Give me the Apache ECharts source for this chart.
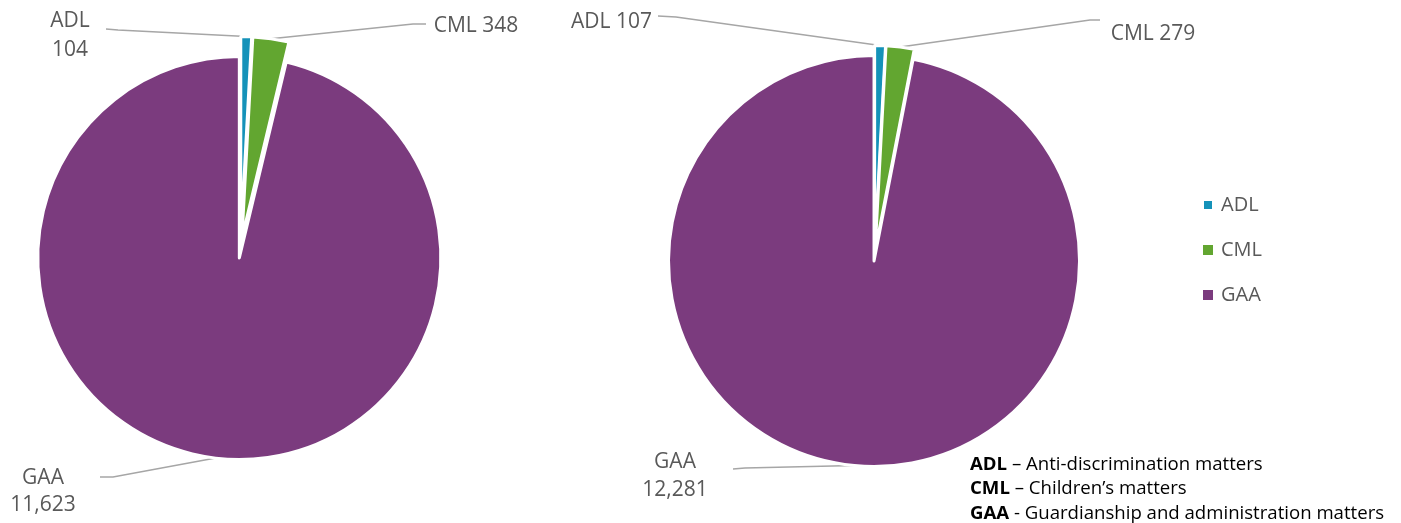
<!DOCTYPE html>
<html>
<head>
<meta charset="utf-8">
<script src="https://cdn.jsdelivr.net/npm/echarts@6/dist/echarts.min.js"></script>
<style>
  html, body { margin: 0; padding: 0; background: #ffffff; }
  #chart { width: 1401px; height: 523px; }
</style>
</head>
<body>
<div id="chart"></div>
<script>
// Matter types and lodgement counts for the two periods
const categories = ['ADL', 'CML', 'GAA'];
const leftValues = [104, 348, 11623];
const rightValues = [107, 279, 12281];
const sliceColors = ['#1592B9', '#62A630', '#7B3B7E'];

// Key shown under the legend
const keyTerms = ['ADL', 'CML', 'GAA'];
const keyTexts = [' – Anti-discrimination matters', ' – Children’s matters', ' - Guardianship and administration matters'];

const FONT = "'Open Sans', 'DejaVu Sans', sans-serif";
const fmt = v => v.toLocaleString('en-US');

// Pie placement, explosion distance and callout placement for each pie
const pies = [
  {
    values: leftValues, center: [240.5, 248], radius: 201.5, explode: 10,
    callouts: [
      { stacked: true,  pos: [70, 36],    lineHeight: 29, elbow: [118, 30], end: [106, 29] },
      { stacked: false, pos: [476, 26],   lineHeight: 28, elbow: [413, 24], end: [426, 24] },
      { stacked: true,  pos: [43, 491.5], lineHeight: 27, elbow: [113, 477], end: [100, 477] }
    ]
  },
  {
    values: rightValues, center: [874.5, 256], radius: 205.5, explode: 5,
    callouts: [
      { stacked: false, pos: [611.5, 22], lineHeight: 28, elbow: [676, 17], end: [658, 16] },
      { stacked: false, pos: [1153, 34],  lineHeight: 28, elbow: [1090, 20], end: [1100, 20] },
      { stacked: true,  pos: [675, 476],  lineHeight: 28, elbow: [745, 468], end: [733, 469] }
    ]
  }
];

// Each slice is drawn by its own pie series, shifted outward along its mid-angle
const series = [];
pies.forEach(pie => {
  const total = pie.values.reduce((a, b) => a + b, 0);
  let cum = 0;
  pie.values.forEach((v, k) => {
    const mid = (cum + v / 2) / total * 2 * Math.PI;
    cum += v;
    const cx = pie.center[0] + pie.explode * Math.sin(mid);
    const cy = pie.center[1] - pie.explode * Math.cos(mid);
    const c = pie.callouts[k];
    series.push({
      type: 'pie',
      center: [cx, cy],
      radius: pie.radius,
      startAngle: 90,
      clockwise: true,
      avoidLabelOverlap: false,
      animation: false,
      emphasis: { disabled: true },
      data: categories.map((name, j) => ({
        name: name,
        value: pie.values[j],
        itemStyle: j === k
          ? { color: sliceColors[j], borderColor: '#ffffff', borderWidth: 3 }
          : { color: 'rgba(0,0,0,0)', borderWidth: 0 },
        label: { show: j === k },
        labelLine: { show: j === k }
      })),
      label: {
        position: 'outside',
        color: '#595959',
        fontFamily: FONT,
        fontSize: 21,
        lineHeight: c.lineHeight,
        align: 'center',
        formatter: p => c.stacked ? p.name + '\n' + fmt(p.value) : p.name + ' ' + fmt(p.value)
      },
      labelLine: {
        length: 10,
        length2: 10,
        lineStyle: { color: '#A6A6A6', width: 1.5 }
      },
      labelLayout: p => {
        if (p.dataIndex !== k) return {};
        const anchor = (p.labelLinePoints && p.labelLinePoints[0])
          ? p.labelLinePoints[0]
          : [cx + pie.radius * Math.sin(mid), cy - pie.radius * Math.cos(mid)];
        return {
          x: c.pos[0],
          y: c.pos[1],
          align: 'center',
          verticalAlign: 'middle',
          labelLinePoints: [anchor, c.elbow, c.end]
        };
      }
    });
  });
});

const chart = echarts.init(document.getElementById('chart'), null, { renderer: 'canvas' });
chart.setOption({
  backgroundColor: '#ffffff',
  animation: false,
  title: {
    left: 970,
    top: 452,
    padding: 0,
    text: keyTerms.map((t, i) => '{b|' + t + '}' + keyTexts[i]).join('\n'),
    textStyle: {
      fontFamily: FONT,
      fontSize: 18.6,
      fontWeight: 'normal',
      color: '#000000',
      lineHeight: 24.5,
      rich: {
        b: { fontFamily: FONT, fontSize: 18.6, fontWeight: 'bold', color: '#000000', lineHeight: 24.5 }
      }
    }
  },
  legend: {
    orient: 'vertical',
    left: 1202,
    top: 195,
    padding: 0,
    itemWidth: 10,
    itemHeight: 10,
    itemGap: 25,
    icon: 'rect',
    selectedMode: false,
    textStyle: { color: '#595959', fontSize: 20, fontFamily: FONT, padding: [0, 0, 0, 3] },
    data: categories.map((n, i) => ({ name: n, itemStyle: { color: sliceColors[i] } }))
  },
  series: series
});
</script>
</body>
</html>
